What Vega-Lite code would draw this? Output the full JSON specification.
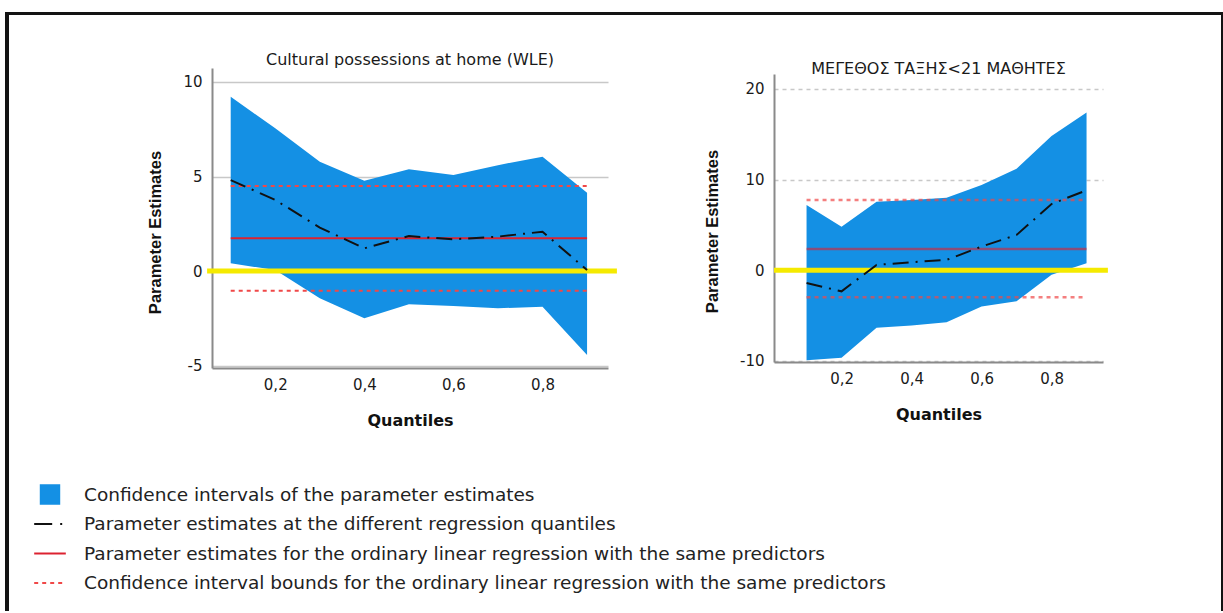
{
  "$schema": "https://vega.github.io/schema/vega-lite/v6.json",
  "background": "white",
  "padding": {"left": 5, "top": 12, "right": 0, "bottom": 0},
  "datasets": {
    "qr": [
      {"panel": "L", "q": 0.1, "lo": 0.41, "hi": 9.22, "est": 4.81},
      {"panel": "L", "q": 0.2, "lo": 0.05, "hi": 7.55, "est": 3.76},
      {"panel": "L", "q": 0.3, "lo": -1.44, "hi": 5.78, "est": 2.3},
      {"panel": "L", "q": 0.4, "lo": -2.5, "hi": 4.78, "est": 1.2},
      {"panel": "L", "q": 0.5, "lo": -1.76, "hi": 5.38, "est": 1.85},
      {"panel": "L", "q": 0.6, "lo": -1.85, "hi": 5.08, "est": 1.68},
      {"panel": "L", "q": 0.7, "lo": -1.97, "hi": 5.6, "est": 1.82},
      {"panel": "L", "q": 0.8, "lo": -1.89, "hi": 6.05, "est": 2.08},
      {"panel": "L", "q": 0.9, "lo": -4.44, "hi": 4.14, "est": 0.05},
      {"panel": "R", "q": 0.1, "lo": -9.96, "hi": 7.18, "est": -1.43},
      {"panel": "R", "q": 0.2, "lo": -9.67, "hi": 4.8, "est": -2.34},
      {"panel": "R", "q": 0.3, "lo": -6.37, "hi": 7.55, "est": 0.58},
      {"panel": "R", "q": 0.4, "lo": -6.1, "hi": 7.73, "est": 0.88},
      {"panel": "R", "q": 0.5, "lo": -5.75, "hi": 7.98, "est": 1.13},
      {"panel": "R", "q": 0.6, "lo": -4.0, "hi": 9.4, "est": 2.6},
      {"panel": "R", "q": 0.7, "lo": -3.44, "hi": 11.2, "est": 3.88},
      {"panel": "R", "q": 0.8, "lo": -0.5, "hi": 14.8, "est": 7.3},
      {"panel": "R", "q": 0.9, "lo": 0.77, "hi": 17.4, "est": 8.82}
    ],
    "ols": [
      {"panel": "L", "est": 1.73, "lo": -1.04, "hi": 4.5},
      {"panel": "R", "est": 2.34, "lo": -3.0, "hi": 7.73}
    ],
    "none": []
  },
  "bounds": "flush",
  "spacing": 0,
  "resolve": {"scale": {"color": "shared"}},
  "vconcat": [
    {"width": 1218, "height": 3, "data": {"name": "none"}, "mark": "point", "view": {"fill": "#131313", "stroke": null}},
    {
      "bounds": "full",
      "spacing": 0,
      "hconcat": [
        {"width": 4, "height": 596, "data": {"name": "none"}, "mark": "point", "view": {"fill": "#131313", "stroke": null}},
        {"width": 138, "height": 10, "data": {"name": "none"}, "mark": "point", "view": {"fill": null, "stroke": null}},
        {
          "bounds": "flush",
          "spacing": 0,
          "vconcat": [
            {"width": 10, "height": 53, "data": {"name": "none"}, "mark": "point", "view": {"fill": null, "stroke": null}},
            {
              "spacing": 166,
              "bounds": "flush",
              "center": true,
              "hconcat": [
                {
                  "width": 396,
                  "height": 300,
                  "title": {"text": "Cultural possessions at home (WLE)", "offset": 0},
                  "layer": [
                    {
                      "data": {"name": "qr"},
                      "transform": [{"filter": "datum.panel === 'L'"}],
                      "mark": {"type": "area", "opacity": 1, "fillOpacity": 1},
                      "encoding": {
                        "x": {"field": "q", "type": "quantitative", "title": "Quantiles",
                              "scale": {"domain": [0.058, 0.947], "nice": false, "zero": false},
                              "axis": {"values": [0.2, 0.4, 0.6, 0.8], "labelExpr": "replace(format(datum.value, '.1f'), '.', ',')"}},
                        "y": {"field": "lo", "type": "quantitative", "title": "Parameter Estimates",
                              "scale": {"domain": [-5.13, 10.74], "nice": false, "zero": false},
                              "axis": {"values": [-5, 0, 5, 10], "labelExpr": "'' + datum.value", "titleY": 164}},
                        "y2": {"field": "hi"},
                        "color": {
                          "datum": "Confidence intervals of the parameter estimates",
                          "title": null,
                          "scale": {
                            "domain": ["Confidence intervals of the parameter estimates", "Parameter estimates at the different regression quantiles", "Parameter estimates for the ordinary linear regression with the same predictors", "Confidence interval bounds for the ordinary linear regression with the same predictors"],
                            "range": ["#1490e4", "#111111", "#dc2230", "#f04848"]
                          },
                          "legend": {
                            "orient": "none", "legendX": 28, "legendY": 469, "padding": 0, "clipHeight": 27,
                            "encode": {"symbols": {"update": {
                              "shape": {"signal": "datum.index === 0 ? 'square' : 'stroke'"},
                              "size": {"signal": "datum.index === 0 ? 340 : 1000"},
                              "strokeDash": {"signal": "datum.index === 1 ? [18, 8, 2, 8] : (datum.index === 3 ? [4, 4] : [])"},
                              "strokeWidth": {"value": 2},
                              "fill": {"signal": "scale('color', datum.value)"},
                              "stroke": {"signal": "scale('color', datum.value)"},
                              "opacity": {"value": 1}, "fillOpacity": {"value": 1}, "strokeOpacity": {"value": 1}
                            }}}
                          }
                        }
                      }
                    },
                    {
                      "data": {"name": "ols"},
                      "transform": [{"filter": "datum.panel === 'L'"}],
                      "mark": {"type": "rule", "strokeWidth": 2},
                      "encoding": {
                        "x": {"datum": 0.1, "type": "quantitative", "title": "Quantiles"},
                        "x2": {"datum": 0.9},
                        "y": {"field": "est", "type": "quantitative", "title": "Parameter Estimates"},
                        "color": {"datum": "Parameter estimates for the ordinary linear regression with the same predictors", "title": null,
                          "legend": {
                            "orient": "none", "legendX": 28, "legendY": 469, "padding": 0, "clipHeight": 27,
                            "encode": {"symbols": {"update": {
                              "shape": {"signal": "datum.index === 0 ? 'square' : 'stroke'"},
                              "size": {"signal": "datum.index === 0 ? 340 : 1000"},
                              "strokeDash": {"signal": "datum.index === 1 ? [18, 8, 2, 8] : (datum.index === 3 ? [4, 4] : [])"},
                              "strokeWidth": {"value": 2},
                              "fill": {"signal": "scale('color', datum.value)"},
                              "stroke": {"signal": "scale('color', datum.value)"},
                              "opacity": {"value": 1}, "fillOpacity": {"value": 1}, "strokeOpacity": {"value": 1}
                            }}}
                          }}
                      }
                    },
                    {
                      "data": {"name": "ols"},
                      "transform": [{"filter": "datum.panel === 'L'"}, {"fold": ["lo", "hi"], "as": ["bound", "value"]}],
                      "mark": {"type": "rule", "strokeWidth": 2, "strokeDash": [4, 4]},
                      "encoding": {
                        "x": {"datum": 0.1, "type": "quantitative", "title": "Quantiles"},
                        "x2": {"datum": 0.9},
                        "y": {"field": "value", "type": "quantitative", "title": "Parameter Estimates"},
                        "color": {"datum": "Confidence interval bounds for the ordinary linear regression with the same predictors", "title": null,
                          "legend": {
                            "orient": "none", "legendX": 28, "legendY": 469, "padding": 0, "clipHeight": 27,
                            "encode": {"symbols": {"update": {
                              "shape": {"signal": "datum.index === 0 ? 'square' : 'stroke'"},
                              "size": {"signal": "datum.index === 0 ? 340 : 1000"},
                              "strokeDash": {"signal": "datum.index === 1 ? [18, 8, 2, 8] : (datum.index === 3 ? [4, 4] : [])"},
                              "strokeWidth": {"value": 2},
                              "fill": {"signal": "scale('color', datum.value)"},
                              "stroke": {"signal": "scale('color', datum.value)"},
                              "opacity": {"value": 1}, "fillOpacity": {"value": 1}, "strokeOpacity": {"value": 1}
                            }}}
                          }}
                      }
                    },
                    {
                      "data": {"values": [{}]},
                      "mark": {"type": "rule", "color": "#f5ea00", "strokeWidth": 5},
                      "encoding": {
                        "x": {"datum": 0.047, "type": "quantitative", "title": "Quantiles"},
                        "x2": {"datum": 0.967},
                        "y": {"datum": 0, "type": "quantitative", "title": "Parameter Estimates"}
                      }
                    },
                    {
                      "data": {"name": "qr"},
                      "transform": [{"filter": "datum.panel === 'L'"}],
                      "mark": {"type": "line", "strokeWidth": 2, "strokeDash": [16, 7, 2, 7]},
                      "encoding": {
                        "x": {"field": "q", "type": "quantitative", "title": "Quantiles"},
                        "y": {"field": "est", "type": "quantitative", "title": "Parameter Estimates"},
                        "color": {"datum": "Parameter estimates at the different regression quantiles", "title": null,
                          "legend": {
                            "orient": "none", "legendX": 28, "legendY": 469, "padding": 0, "clipHeight": 27,
                            "encode": {"symbols": {"update": {
                              "shape": {"signal": "datum.index === 0 ? 'square' : 'stroke'"},
                              "size": {"signal": "datum.index === 0 ? 340 : 1000"},
                              "strokeDash": {"signal": "datum.index === 1 ? [18, 8, 2, 8] : (datum.index === 3 ? [4, 4] : [])"},
                              "strokeWidth": {"value": 2},
                              "fill": {"signal": "scale('color', datum.value)"},
                              "stroke": {"signal": "scale('color', datum.value)"},
                              "opacity": {"value": 1}, "fillOpacity": {"value": 1}, "strokeOpacity": {"value": 1}
                            }}}
                          }}
                      }
                    }
                  ]
                },
                {
                  "width": 329,
                  "height": 288,
                  "title": {"text": "ΜΕΓΕΘΟΣ ΤΑΞΗΣ<21 ΜΑΘΗΤΕΣ", "offset": -3},
                  "layer": [
                    {
                      "data": {"name": "qr"},
                      "transform": [{"filter": "datum.panel === 'R'"}],
                      "mark": {"type": "area", "opacity": 1, "fillOpacity": 1},
                      "encoding": {
                        "x": {"field": "q", "type": "quantitative", "title": "Quantiles",
                              "scale": {"domain": [0.007, 0.947], "nice": false, "zero": false},
                              "axis": {"values": [0.2, 0.4, 0.6, 0.8], "labelExpr": "replace(format(datum.value, '.1f'), '.', ',')"}},
                        "y": {"field": "lo", "type": "quantitative", "title": "Parameter Estimates",
                              "scale": {"domain": [-10.14, 21.65], "nice": false, "zero": false},
                              "axis": {"values": [-10, 0, 10, 20], "labelExpr": "'' + datum.value", "gridDash": [4, 4], "titleY": 157}},
                        "y2": {"field": "hi"},
                        "color": {"datum": "Confidence intervals of the parameter estimates", "title": null,
                          "legend": {
                            "orient": "none", "legendX": 28, "legendY": 469, "padding": 0, "clipHeight": 27,
                            "encode": {"symbols": {"update": {
                              "shape": {"signal": "datum.index === 0 ? 'square' : 'stroke'"},
                              "size": {"signal": "datum.index === 0 ? 340 : 1000"},
                              "strokeDash": {"signal": "datum.index === 1 ? [18, 8, 2, 8] : (datum.index === 3 ? [4, 4] : [])"},
                              "strokeWidth": {"value": 2},
                              "fill": {"signal": "scale('color', datum.value)"},
                              "stroke": {"signal": "scale('color', datum.value)"},
                              "opacity": {"value": 1}, "fillOpacity": {"value": 1}, "strokeOpacity": {"value": 1}
                            }}}
                          }}
                      }
                    },
                    {
                      "data": {"name": "ols"},
                      "transform": [{"filter": "datum.panel === 'R'"}],
                      "mark": {"type": "rule", "strokeWidth": 2.5, "opacity": 0.6},
                      "encoding": {
                        "x": {"datum": 0.1, "type": "quantitative", "title": "Quantiles"},
                        "x2": {"datum": 0.9},
                        "y": {"field": "est", "type": "quantitative", "title": "Parameter Estimates"},
                        "color": {"datum": "Parameter estimates for the ordinary linear regression with the same predictors", "title": null,
                          "legend": {
                            "orient": "none", "legendX": 28, "legendY": 469, "padding": 0, "clipHeight": 27,
                            "encode": {"symbols": {"update": {
                              "shape": {"signal": "datum.index === 0 ? 'square' : 'stroke'"},
                              "size": {"signal": "datum.index === 0 ? 340 : 1000"},
                              "strokeDash": {"signal": "datum.index === 1 ? [18, 8, 2, 8] : (datum.index === 3 ? [4, 4] : [])"},
                              "strokeWidth": {"value": 2},
                              "fill": {"signal": "scale('color', datum.value)"},
                              "stroke": {"signal": "scale('color', datum.value)"},
                              "opacity": {"value": 1}, "fillOpacity": {"value": 1}, "strokeOpacity": {"value": 1}
                            }}}
                          }}
                      }
                    },
                    {
                      "data": {"name": "ols"},
                      "transform": [{"filter": "datum.panel === 'R'"}, {"fold": ["lo", "hi"], "as": ["bound", "value"]}],
                      "mark": {"type": "rule", "strokeWidth": 2.5, "strokeDash": [4, 4], "opacity": 0.7},
                      "encoding": {
                        "x": {"datum": 0.1, "type": "quantitative", "title": "Quantiles"},
                        "x2": {"datum": 0.9},
                        "y": {"field": "value", "type": "quantitative", "title": "Parameter Estimates"},
                        "color": {"datum": "Confidence interval bounds for the ordinary linear regression with the same predictors", "title": null,
                          "legend": {
                            "orient": "none", "legendX": 28, "legendY": 469, "padding": 0, "clipHeight": 27,
                            "encode": {"symbols": {"update": {
                              "shape": {"signal": "datum.index === 0 ? 'square' : 'stroke'"},
                              "size": {"signal": "datum.index === 0 ? 340 : 1000"},
                              "strokeDash": {"signal": "datum.index === 1 ? [18, 8, 2, 8] : (datum.index === 3 ? [4, 4] : [])"},
                              "strokeWidth": {"value": 2},
                              "fill": {"signal": "scale('color', datum.value)"},
                              "stroke": {"signal": "scale('color', datum.value)"},
                              "opacity": {"value": 1}, "fillOpacity": {"value": 1}, "strokeOpacity": {"value": 1}
                            }}}
                          }}
                      }
                    },
                    {
                      "data": {"values": [{}]},
                      "mark": {"type": "rule", "color": "#f5ea00", "strokeWidth": 5},
                      "encoding": {
                        "x": {"datum": 0.007, "type": "quantitative", "title": "Quantiles"},
                        "x2": {"datum": 0.961},
                        "y": {"datum": 0, "type": "quantitative", "title": "Parameter Estimates"}
                      }
                    },
                    {
                      "data": {"name": "qr"},
                      "transform": [{"filter": "datum.panel === 'R'"}],
                      "mark": {"type": "line", "strokeWidth": 2, "strokeDash": [16, 7, 2, 7]},
                      "encoding": {
                        "x": {"field": "q", "type": "quantitative", "title": "Quantiles"},
                        "y": {"field": "est", "type": "quantitative", "title": "Parameter Estimates"},
                        "color": {"datum": "Parameter estimates at the different regression quantiles", "title": null,
                          "legend": {
                            "orient": "none", "legendX": 28, "legendY": 469, "padding": 0, "clipHeight": 27,
                            "encode": {"symbols": {"update": {
                              "shape": {"signal": "datum.index === 0 ? 'square' : 'stroke'"},
                              "size": {"signal": "datum.index === 0 ? 340 : 1000"},
                              "strokeDash": {"signal": "datum.index === 1 ? [18, 8, 2, 8] : (datum.index === 3 ? [4, 4] : [])"},
                              "strokeWidth": {"value": 2},
                              "fill": {"signal": "scale('color', datum.value)"},
                              "stroke": {"signal": "scale('color', datum.value)"},
                              "opacity": {"value": 1}, "fillOpacity": {"value": 1}, "strokeOpacity": {"value": 1}
                            }}}
                          }}
                      }
                    }
                  ]
                }
              ]
            }
          ]
        },
        {"width": 110, "height": 10, "data": {"name": "none"}, "mark": "point", "view": {"fill": null, "stroke": null}},
        {"width": 2, "height": 596, "data": {"name": "none"}, "mark": "point", "view": {"fill": "#131313", "stroke": null}}
      ]
    }
  ],
  "config": {
    "view": {"stroke": null},
    "font": "DejaVu Sans",
    "title": {"font": "DejaVu Sans", "fontSize": 16, "fontWeight": "normal", "color": "#1a1a1a", "anchor": "middle", "frame": "group"},
    "axis": {"domainColor": "#8a8a8a", "domainWidth": 2, "ticks": false, "labelFont": "DejaVu Sans", "labelFontSize": 15, "labelColor": "#1a1a1a", "titleColor": "#111111"},
    "axisX": {"grid": false, "labelPadding": 9, "titleFont": "DejaVu Sans", "titleFontSize": 16, "titleFontWeight": "bold", "titlePadding": 20},
    "axisY": {"grid": true, "gridColor": "#c8c8c8", "gridWidth": 1.5, "labelPadding": 10, "titleFont": "Liberation Sans", "titleFontSize": 16.5, "titleFontWeight": "bold", "titlePadding": 19},
    "legend": {"labelFont": "DejaVu Sans", "labelFontSize": 18.5, "labelColor": "#222222", "labelLimit": 1000, "symbolSize": 1000, "symbolType": "stroke", "rowPadding": 2.5, "labelOffset": 17, "symbolStrokeWidth": 2}
  }
}
